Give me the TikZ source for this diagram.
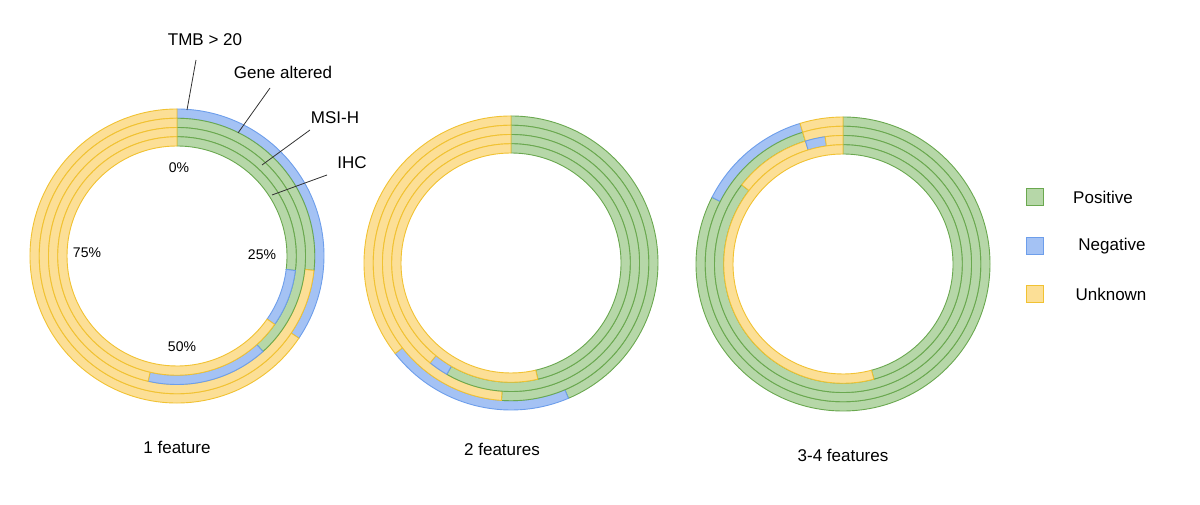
\documentclass[tikz,border=0pt]{standalone}
\usepackage{fontspec}
\setmainfont{Liberation Sans}
\definecolor{gf}{HTML}{B6D7A8}\definecolor{gd}{HTML}{6AA84F}
\definecolor{bf}{HTML}{A4C2F4}\definecolor{bd}{HTML}{6D9EEB}
\definecolor{yf}{HTML}{FCDF96}\definecolor{yd}{HTML}{F1C232}
\tikzset{posseg/.style={fill=gf,draw=gd},negseg/.style={fill=bf,draw=bd},unkseg/.style={fill=yf,draw=yd},
 lbl/.style={font=\fontsize{17}{19}\selectfont},pct/.style={font=\fontsize{14}{16}\selectfont},
 lead/.style={draw=black!80,line width=0.8pt}}
\newcommand\ringseg[7]{\draw[#7,line width=0.9pt,shift={(#1,#2)}] ({90-#5}:#4) arc[start angle={90-#5},end angle={90-#6},radius=#4] -- ({90-#6}:#3) arc[start angle={90-#6},end angle={90-#5},radius=#3] -- cycle;}
\newcommand\rA[5]{\ringseg{#1}{#2}{137.75}{147}{#3}{#4}{#5seg}}
\newcommand\rB[5]{\ringseg{#1}{#2}{128.5}{137.75}{#3}{#4}{#5seg}}
\newcommand\rC[5]{\ringseg{#1}{#2}{119.25}{128.5}{#3}{#4}{#5seg}}
\newcommand\rD[5]{\ringseg{#1}{#2}{110}{119.25}{#3}{#4}{#5seg}}
\begin{document}
\begin{tikzpicture}[x=1pt,y=1pt]
\useasboundingbox (0,0) rectangle (1200,505);
% chart 1
\rA{177}{249}{0}{124}{neg}\rA{177}{249}{124}{360}{unk}
\rB{177}{249}{0}{96}{pos}\rB{177}{249}{96}{360}{unk}
\rC{177}{249}{0}{138}{pos}\rC{177}{249}{138}{193}{neg}\rC{177}{249}{193}{360}{unk}
\rD{177}{249}{0}{97}{pos}\rD{177}{249}{97}{125}{neg}\rD{177}{249}{125}{360}{unk}
% chart 2
\rA{511}{242}{0}{157}{pos}\rA{511}{242}{157}{232}{neg}\rA{511}{242}{232}{360}{unk}
\rB{511}{242}{0}{184}{pos}\rB{511}{242}{184}{360}{unk}
\rC{511}{242}{0}{210}{pos}\rC{511}{242}{210}{219}{neg}\rC{511}{242}{219}{360}{unk}
\rD{511}{242}{0}{167}{pos}\rD{511}{242}{167}{360}{unk}
% chart 3
\rA{843}{241}{0}{297}{pos}\rA{843}{241}{297}{343}{neg}\rA{843}{241}{343}{360}{unk}
\rB{843}{241}{0}{343}{pos}\rB{843}{241}{343}{360}{unk}
\rC{843}{241}{0}{308}{pos}\rC{843}{241}{308}{343}{unk}\rC{843}{241}{343}{352}{neg}\rC{843}{241}{352}{360}{unk}
\rD{843}{241}{0}{165}{pos}\rD{843}{241}{165}{360}{unk}
% labels
\node[lbl] (tmb) at (205,465) {TMB > 20};
\node[lbl] (gene) at (283,433) {Gene altered};
\node[lbl] (msi) at (335,387) {MSI-H};
\node[lbl] (ihc) at (352,342) {IHC};
\coordinate (ta) at (187,395);\coordinate (ga) at (238,372);\coordinate (ma) at (262,340);\coordinate (ia) at (272,310);
\draw[lead] (196,445) -- (ta);
\draw[lead] (270,417) -- (ga);
\draw[lead] (310,375) -- (ma);
\draw[lead] (327,330) -- (ia);
\node[pct] (p0) at (179,337) {0\%};
\node[pct] (p25) at (262,250) {25\%};
\node[pct] (p50) at (182,158) {50\%};
\node[pct] (p75) at (87,252) {75\%};
\node[lbl] (c1) at (177,58) {1 feature};
\node[lbl] (c2) at (502,56) {2 features};
\node[lbl] (c3) at (843,50) {3-4 features};
% legend
\node[posseg,line width=1pt,minimum size=17pt,inner sep=0pt] (lp) at (1035,308) {};
\node[negseg,line width=1pt,minimum size=17pt,inner sep=0pt] (ln) at (1035,259) {};
\node[unkseg,line width=1pt,minimum size=17pt,inner sep=0pt] (lu) at (1035,211) {};
\node[lbl] (tp) at (1103,308) {Positive};
\node[lbl] (tn) at (1112,259) {Negative};
\node[lbl] (tu) at (1111,211) {Unknown};
\end{tikzpicture}
\end{document}
